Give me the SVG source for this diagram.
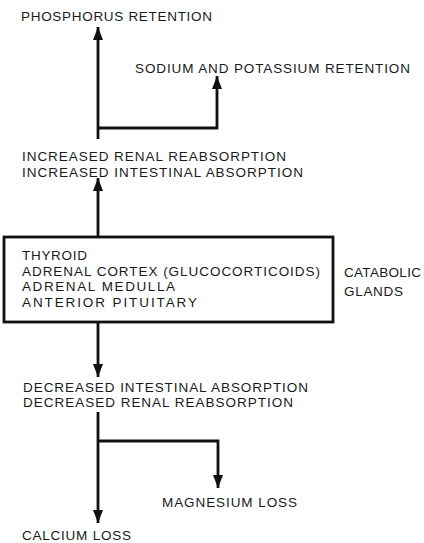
<svg xmlns="http://www.w3.org/2000/svg" width="424" height="543" viewBox="0 0 424 543">
<style>
text{font-family:"Liberation Sans",Arial,sans-serif;font-size:13.5px;fill:#1a1a1a;}
.c{stroke:#111;stroke-width:2.8;fill:none;}
.box{stroke:#111;stroke-width:2.8;fill:#fff;}
</style>
<defs>
<marker id="ah" viewBox="0 0 13 10" refX="13" refY="5" markerWidth="13" markerHeight="10" markerUnits="userSpaceOnUse" orient="auto">
<path d="M0,0 L13,5 L0,10 z" fill="#111"/>
</marker>
</defs>
<rect width="424" height="543" fill="#fff"/>
<g id="connectors">
<path class="c" d="M98,237 V178" marker-end="url(#ah)"/>
<path class="c" d="M98,139 V27" marker-end="url(#ah)"/>
<path class="c" d="M98,128 H217 V76" marker-end="url(#ah)"/>
<path class="c" d="M98,322 V377" marker-end="url(#ah)"/>
<path class="c" d="M98,412 V523" marker-end="url(#ah)"/>
<path class="c" d="M98,441 H218 V488" marker-end="url(#ah)"/>
</g>
<g id="phosphorus"><text x="21" y="21" textLength="191" lengthAdjust="spacing">PHOSPHORUS RETENTION</text></g>
<g id="sodium"><text x="135" y="73" textLength="275" lengthAdjust="spacing">SODIUM AND POTASSIUM RETENTION</text></g>
<g id="increased">
<text x="22" y="161" textLength="264" lengthAdjust="spacing">INCREASED RENAL REABSORPTION</text>
<text x="22" y="177" textLength="281" lengthAdjust="spacing">INCREASED INTESTINAL ABSORPTION</text>
</g>
<g id="glands">
<rect class="box" x="4" y="237" width="329" height="85"/>
<text x="22" y="260" textLength="65" lengthAdjust="spacing">THYROID</text>
<text x="22" y="275.5" textLength="298" lengthAdjust="spacing">ADRENAL CORTEX (GLUCOCORTICOIDS)</text>
<text x="22" y="291" textLength="153" lengthAdjust="spacing">ADRENAL MEDULLA</text>
<text x="22" y="306.5" textLength="175" lengthAdjust="spacing">ANTERIOR PITUITARY</text>
</g>
<g id="catabolic">
<text x="344" y="277" textLength="77" lengthAdjust="spacing">CATABOLIC</text>
<text x="344" y="296" textLength="59" lengthAdjust="spacing">GLANDS</text>
</g>
<g id="decreased">
<text x="23" y="392" textLength="285" lengthAdjust="spacing">DECREASED INTESTINAL ABSORPTION</text>
<text x="23" y="407" textLength="270" lengthAdjust="spacing">DECREASED RENAL REABSORPTION</text>
</g>
<g id="magnesium"><text x="162" y="507" textLength="135" lengthAdjust="spacing">MAGNESIUM LOSS</text></g>
<g id="calcium"><text x="22" y="540" textLength="109" lengthAdjust="spacing">CALCIUM LOSS</text></g>
</svg>
